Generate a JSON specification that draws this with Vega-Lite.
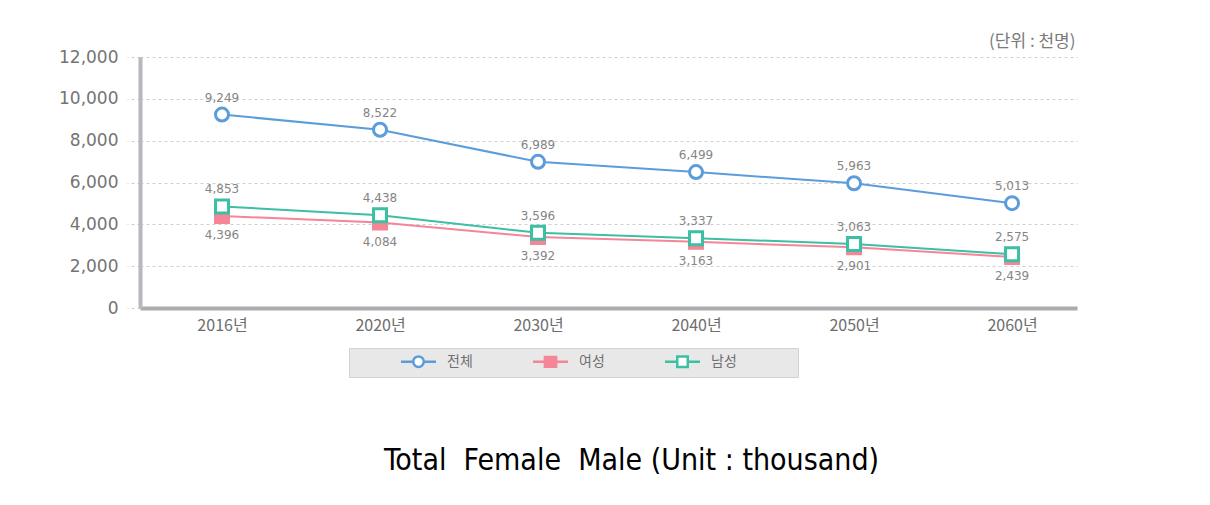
{
  "$schema": "https://vega.github.io/schema/vega-lite/v6.json",
  "width": 937,
  "height": 251,
  "autosize": {"type": "none"},
  "padding": {"left": 140, "top": 57, "right": 133, "bottom": 197},
  "background": "#ffffff",
  "config": {
    "view": {"stroke": null},
    "font": "DejaVu Sans",
    "legend": {
      "orient": "none",
      "legendX": 209,
      "legendY": 291,
      "direction": "horizontal",
      "titleOrient": "left",
      "titleFontSize": 14,
      "titlePadding": 0,
      "fillColor": "#e8e8e8",
      "strokeColor": "#d2d2d2",
      "padding": 5,
      "symbolSize": 196,
      "symbolStrokeWidth": 2.5,
      "labelOffset": 20,
      "columnPadding": 55,
      "labelFont": "Noto Sans CJK KR",
      "labelFontSize": 14,
      "labelColor": "#707070"
    }
  },
  "data": {
    "values": [
      {"year": "2016년", "series": "전체", "value": 9249},
      {"year": "2016년", "series": "여성", "value": 4396},
      {"year": "2016년", "series": "남성", "value": 4853},
      {"year": "2020년", "series": "전체", "value": 8522},
      {"year": "2020년", "series": "여성", "value": 4084},
      {"year": "2020년", "series": "남성", "value": 4438},
      {"year": "2030년", "series": "전체", "value": 6989},
      {"year": "2030년", "series": "여성", "value": 3392},
      {"year": "2030년", "series": "남성", "value": 3596},
      {"year": "2040년", "series": "전체", "value": 6499},
      {"year": "2040년", "series": "여성", "value": 3163},
      {"year": "2040년", "series": "남성", "value": 3337},
      {"year": "2050년", "series": "전체", "value": 5963},
      {"year": "2050년", "series": "여성", "value": 2901},
      {"year": "2050년", "series": "남성", "value": 3063},
      {"year": "2060년", "series": "전체", "value": 5013},
      {"year": "2060년", "series": "여성", "value": 2439},
      {"year": "2060년", "series": "남성", "value": 2575}
    ]
  },
  "encoding": {
    "x": {
      "field": "year",
      "type": "ordinal",
      "sort": null,
      "scale": {"type": "point", "padding": 0.465, "align": 0.558},
      "axis": {
        "labelAngle": 0,
        "ticks": false,
        "grid": false,
        "domain": true,
        "domainColor": "#acacb0",
        "domainWidth": 4,
        "labelFont": "Noto Sans CJK KR",
        "labelFontSize": 16,
        "labelColor": "#6e6e6e",
        "labelPadding": 9,
        "title": "Total\u00a0 Female\u00a0 Male (Unit : thousand)",
        "titleX": 491,
        "titleY": 152,
        "titleAlign": "center",
        "titleBaseline": "middle",
        "titleFont": "DejaVu Sans Condensed, sans-serif",
        "titleFontSize": 30,
        "titleFontWeight": "normal",
        "titleColor": "#000000"
      }
    },
    "y": {
      "field": "value",
      "type": "quantitative",
      "scale": {"domain": [0, 12000], "nice": false, "zero": true},
      "axis": {
        "values": [0, 2000, 4000, 6000, 8000, 10000, 12000],
        "format": ",d",
        "grid": true,
        "gridDash": [3, 3],
        "gridColor": "#cfcfcf",
        "gridWidth": 1,
        "ticks": true,
        "tickSize": 13,
        "tickDash": [3, 3],
        "tickColor": "#cfcfcf",
        "domain": true,
        "domainColor": "#b8b8bc",
        "domainWidth": 4,
        "labelFont": "DejaVu Sans",
        "labelFontSize": 17,
        "labelColor": "#747474",
        "labelPadding": 9,
        "title": "(단위 : 천명)",
        "titleAngle": 0,
        "titleX": 935,
        "titleY": -16,
        "titleAlign": "right",
        "titleBaseline": "middle",
        "titleFont": "Noto Sans CJK KR",
        "titleFontSize": 17,
        "titleFontWeight": "normal",
        "titleColor": "#7a7a7a"
      }
    }
  },
  "layer": [
    {
      "mark": {"type": "line", "strokeWidth": 2},
      "encoding": {
        "stroke": {
          "field": "series",
          "type": "nominal",
          "scale": {"domain": ["전체", "여성", "남성"], "range": ["#5b9ddb", "#f48697", "#3cbfa3"]},
          "legend": {
            "title": "\u200b\u2003\u2003\u2003\u2003\u200b",
            "labelExpr": "datum.label == '남성' ? datum.label + '\u2003\u2003\u2003\u2003\u200b' : datum.label",
            "encode": {
              "symbols": {
                "update": {
                  "shape": {"signal": "datum.value == '전체' ? 'M-2.5,0L-0.75,0M0.75,0L2.5,0M-0.75,0A0.75,0.75,0,1,1,0.75,0A0.75,0.75,0,1,1,-0.75,0Z' : datum.value == '여성' ? 'M-2.5,0L-0.8,0M0.8,0L2.5,0M-0.8,-0.7L0.8,-0.7L0.8,0.7L-0.8,0.7Z' : 'M-2.5,0L-0.75,0M0.75,0L2.5,0M-0.75,-0.75L0.75,-0.75L0.75,0.75L-0.75,0.75Z'"},
                  "strokeWidth": {"value": 2.5},
                  "opacity": {"value": 1}
                }
              }
            }
          }
        }
      }
    },
    {
      "transform": [{"filter": "datum.series == '전체'"}],
      "mark": {"type": "point", "shape": "circle", "filled": true, "opacity": 1, "size": 169, "strokeWidth": 3},
      "encoding": {
        "stroke": {
          "field": "series",
          "type": "nominal",
          "scale": {"domain": ["전체", "여성", "남성"], "range": ["#5b9ddb", "#f48697", "#3cbfa3"]}
        },
        "fill": {
          "field": "series",
          "type": "nominal",
          "scale": {"domain": ["전체", "여성", "남성"], "range": ["#ffffff", "#f48697", "#ffffff"]}
        }
      }
    },
    {
      "transform": [{"filter": "datum.series != '전체'"}],
      "mark": {"type": "point", "shape": "square", "filled": true, "opacity": 1, "size": 169, "strokeWidth": 3},
      "encoding": {
        "stroke": {
          "field": "series",
          "type": "nominal",
          "scale": {"domain": ["전체", "여성", "남성"], "range": ["#5b9ddb", "#f48697", "#3cbfa3"]}
        },
        "fill": {
          "field": "series",
          "type": "nominal",
          "scale": {"domain": ["전체", "여성", "남성"], "range": ["#ffffff", "#f48697", "#ffffff"]}
        }
      }
    },
    {
      "transform": [{"filter": "datum.series != '여성'"}],
      "mark": {"type": "text", "dy": -17, "fontSize": 12, "font": "DejaVu Sans", "color": "#858585"},
      "encoding": {
        "text": {"field": "value", "type": "quantitative", "format": ",d"}
      }
    },
    {
      "transform": [{"filter": "datum.series == '여성'"}],
      "mark": {"type": "text", "dy": 19, "fontSize": 12, "font": "DejaVu Sans", "color": "#858585"},
      "encoding": {
        "text": {"field": "value", "type": "quantitative", "format": ",d"}
      }
    }
  ]
}
